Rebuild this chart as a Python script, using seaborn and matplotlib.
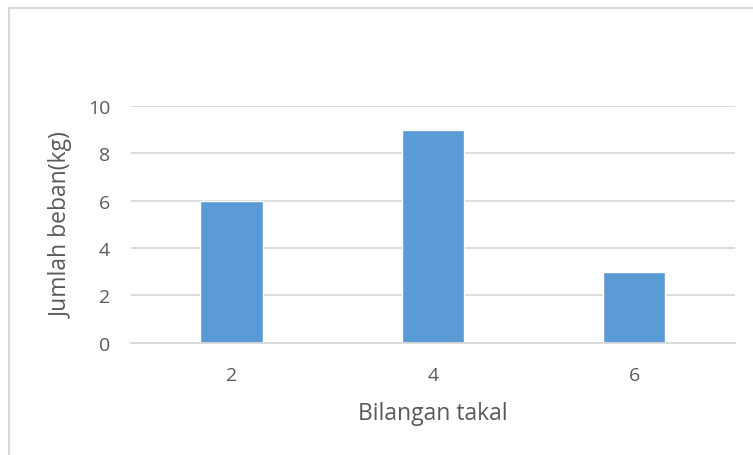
import matplotlib
matplotlib.use("Agg")
import matplotlib.pyplot as plt
import seaborn as sns
import pandas as pd
from matplotlib.patches import Rectangle

# data
takal = ["2", "4", "6"]
beban = [6, 9, 3]

df = pd.DataFrame({"takal": takal, "beban": beban})

sns.set_style("white")
plt.rcParams['font.family'] = ['Open Sans', 'DejaVu Sans']

fig = plt.figure(figsize=(7.53, 4.56), dpi=100)
ax = fig.add_axes([0.174, 0.246, 0.802, 0.519])

sns.barplot(data=df, x="takal", y="beban", color="#5B9BD5", width=0.31,
            saturation=1, ax=ax)

ax.set_ylim(0, 10)
ax.set_yticks([0, 2, 4, 6, 8, 10])
ax.set_xlim(-0.5, 2.5)
ax.yaxis.grid(True, color="#D9D9D9", linewidth=1.3)
ax.set_axisbelow(True)
for s in ["top", "right", "left"]:
    ax.spines[s].set_visible(False)
ax.spines["bottom"].set_color("#D9D9D9")
ax.spines["bottom"].set_linewidth(1.3)
ax.tick_params(axis="both", length=0, labelsize=14, labelcolor="#595959")
ax.tick_params(axis="x", pad=17)
ax.tick_params(axis="y", pad=15)

ax.set_xlabel("Bilangan takal", fontsize=16.5, color="#595959", labelpad=12)
ax.set_ylabel("Jumlah beban(kg)", fontsize=16.5, color="#595959", labelpad=10)

# chart border (cropped at right and bottom)
fig.patches.append(Rectangle((9 / 753, -0.1), 1.2, 1 - 9 / 456 + 0.1,
                             transform=fig.transFigure, fill=False,
                             edgecolor="#D9D9D9", linewidth=1.5))

fig.savefig("out.png", dpi=100)
